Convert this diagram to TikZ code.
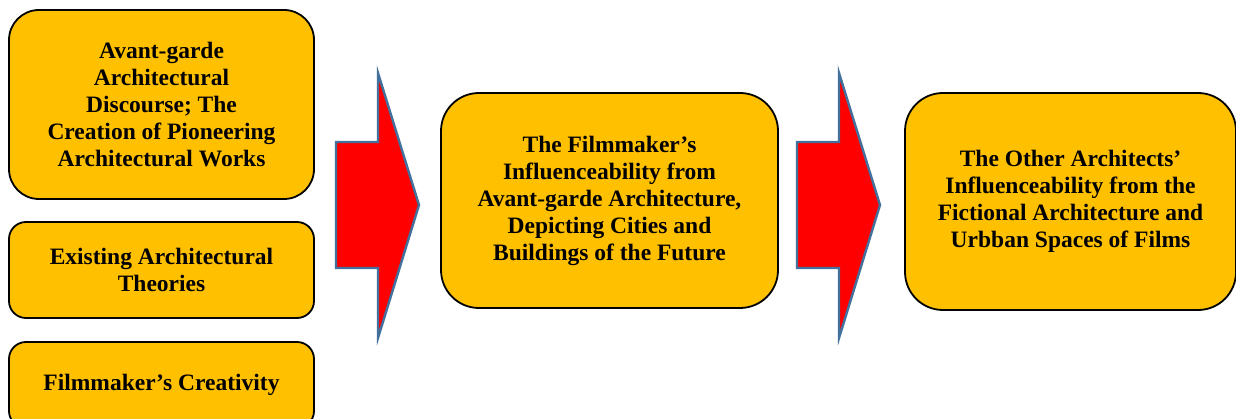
\documentclass[tikz,border=0pt]{standalone}
\usepackage{fontspec}
\setmainfont{Liberation Serif}
\usetikzlibrary{positioning}
\definecolor{boxgold}{HTML}{FFC000}
\definecolor{arrowred}{HTML}{FF0000}
\definecolor{arrowline}{HTML}{41719C}
\tikzset{
  stage/.style={rectangle, draw=black, fill=boxgold, line width=1.8pt, align=center, inner sep=2pt,
    font=\fontsize{23.5}{27}\selectfont\bfseries},
  bigarrow/.style={draw=arrowline, fill=arrowred, line width=2.4pt, line join=miter}
}

\begin{document}
\begin{tikzpicture}[x=1pt, y=-1pt]
  \useasboundingbox (0,0) rectangle (1236,419);
  \clip (0,0) rectangle (1236,419);
  % inputs on the left
  \node[stage, rounded corners=30pt, minimum width=305pt, minimum height=189pt] (avant) at (161.5,104.5)
    {Avant-garde\\Architectural\\Discourse; The\\Creation of Pioneering\\Architectural Works};
  \node[stage, rounded corners=17pt, minimum width=305pt, minimum height=96pt] (theory) at (161.5,270)
    {Existing Architectural\\Theories};
  \node[stage, rounded corners=17pt, minimum width=305pt, minimum height=86pt] (creat) at (161.5,385)
    {Filmmaker’s Creativity};
  % middle and right stages
  \node[stage, rounded corners=38pt, minimum width=337pt, minimum height=215pt] (film) at (609.5,200.5)
    {The Filmmaker’s\\Influenceability from\\Avant-garde Architecture,\\Depicting Cities and\\Buildings of the Future};
  \node[stage, rounded corners=38pt, minimum width=331pt, minimum height=217pt] (other) at (1070.5,201.5)
    {The Other Architects’\\Influenceability from the\\Fictional Architecture and\\Urbban Spaces of Films};
  % block arrows between the stages
  \draw[bigarrow] (336,142) -- (378,142) -- (378,73) -- (419,205) -- (378,338) -- (378,268) -- (336,268) -- cycle;
  \draw[bigarrow] (797,142) -- (839,142) -- (839,73) -- (880,205) -- (839,338) -- (839,268) -- (797,268) -- cycle;
\end{tikzpicture}
\end{document}
